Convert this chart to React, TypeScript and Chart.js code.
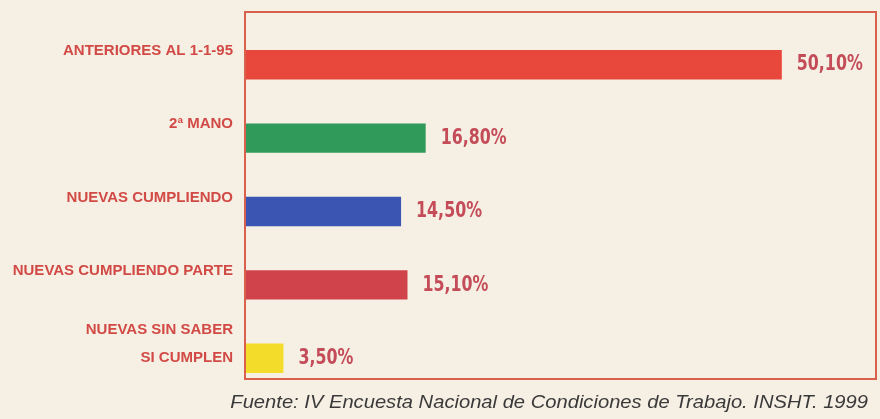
import React, { useEffect, useRef } from "react";
import { Chart, registerables } from "chart.js";

Chart.register(...registerables);

const categories: (string | string[])[] = [
  "ANTERIORES AL 1-1-95",
  "2ª MANO",
  "NUEVAS CUMPLIENDO",
  "NUEVAS CUMPLIENDO PARTE",
  ["NUEVAS SIN SABER", "SI CUMPLEN"],
];
const values: number[] = [50.1, 16.8, 14.5, 15.1, 3.5];
const barColors: string[] = ["#e8473c", "#2f9a5a", "#3a55b2", "#d0434a", "#f4dc2a"];
const sourceNote = "Fuente: IV Encuesta Nacional de Condiciones de Trabajo. INSHT. 1999";

const BG = "#f6efe4";

const backgroundPlugin = {
  id: "bg",
  beforeDraw(chart: any) {
    const { ctx, width, height } = chart;
    ctx.save();
    ctx.fillStyle = BG;
    ctx.fillRect(0, 0, width, height);
    ctx.restore();
  },
};

const framePlugin = {
  id: "frame",
  beforeDatasetsDraw(chart: any) {
    const { ctx, chartArea } = chart;
    const shift = 16;
    ctx.save();
    ctx.strokeStyle = "#d9604c";
    ctx.lineWidth = 2;
    ctx.strokeRect(
      chartArea.left - 1,
      chartArea.top - shift,
      chartArea.right - chartArea.left,
      chartArea.bottom - chartArea.top
    );
    ctx.restore();
  },
};

const valueLabelPlugin = {
  id: "valueLabels",
  afterDatasetsDraw(chart: any) {
    const { ctx } = chart;
    const meta = chart.getDatasetMeta(0);
    ctx.save();
    ctx.font = "bold 22px 'DejaVu Sans Condensed', 'DejaVu Sans', sans-serif";
    ctx.fillStyle = "#c44c58";
    ctx.textAlign = "left";
    ctx.textBaseline = "middle";
    meta.data.forEach((bar: any, i: number) => {
      const txt = values[i].toFixed(2).replace(".", ",") + "%";
      ctx.save();
      ctx.translate(bar.x + 15, bar.y);
      ctx.scale(0.8, 1);
      ctx.fillText(txt, 0, 0);
      ctx.restore();
    });
    ctx.restore();
  },
};

const footerPlugin = {
  id: "footer",
  afterDraw(chart: any) {
    const { ctx, width, height } = chart;
    ctx.save();
    ctx.font = "italic 18px 'Liberation Sans', Arial, sans-serif";
    ctx.fillStyle = "#3a3a3a";
    ctx.textAlign = "right";
    ctx.textBaseline = "middle";
    ctx.translate(width - 12, height - 16);
    ctx.scale(1.12, 1);
    ctx.fillText(sourceNote, 0, 0);
    ctx.restore();
  },
};

export default function App() {
  const ref = useRef<HTMLCanvasElement | null>(null);

  useEffect(() => {
    document.body.style.margin = "0";
    document.body.style.background = BG;
    if (!ref.current) return;
    const chart = new Chart(ref.current, {
      type: "bar",
      data: {
        labels: categories,
        datasets: [
          {
            data: values,
            backgroundColor: barColors,
            borderWidth: 0,
            barPercentage: 0.4,
            categoryPercentage: 1,
          },
        ],
      },
      options: {
        indexAxis: "y",
        animation: false,
        responsive: false,
        maintainAspectRatio: false,
        layout: { padding: { top: 28, bottom: 24, right: 3, left: 0 } },
        plugins: {
          legend: { display: false },
          tooltip: { enabled: false },
          title: { display: false },
        },
        scales: {
          x: {
            min: 0,
            max: 59,
            display: false,
            grid: { display: false },
          },
          y: {
            grid: { display: false, drawTicks: false },
            border: { display: false },
            afterFit: (scale: any) => {
              scale.width = 246;
              scale.paddingTop = 0;
              scale.paddingBottom = 0;
            },
            ticks: {
              color: "#d24a45",
              padding: 13,
              labelOffset: -14,
              font: {
                family: "'Liberation Sans', Arial, sans-serif",
                size: 15,
                weight: "bold",
                lineHeight: 1.87,
              },
            },
          },
        },
      },
      plugins: [backgroundPlugin, framePlugin, valueLabelPlugin, footerPlugin],
    });
    return () => chart.destroy();
  }, []);

  return (
    <div style={{ width: 880, height: 419 }}>
      <canvas ref={ref} width={880} height={419} style={{ display: "block" }} />
    </div>
  );
}
